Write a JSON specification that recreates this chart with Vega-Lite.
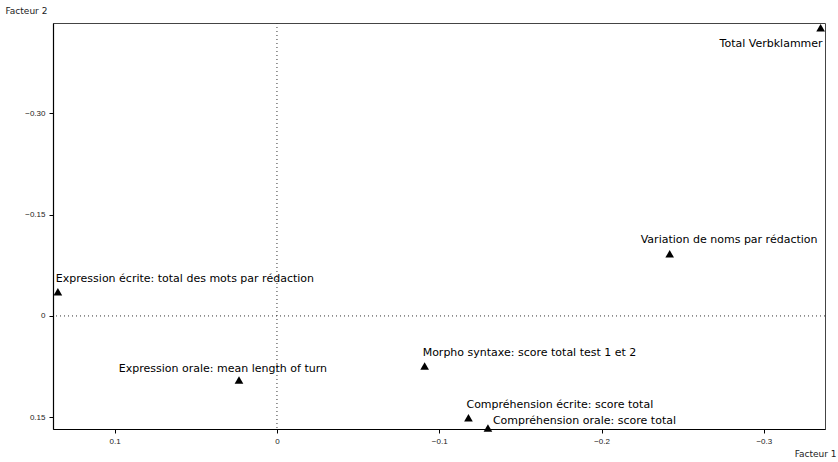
{
  "$schema": "https://vega.github.io/schema/vega-lite/v6.json",
  "autosize": "none",
  "width": 772,
  "height": 406,
  "padding": {"left": 53, "top": 23, "right": 13, "bottom": 33},
  "background": "white",
  "config": {
    "view": {"stroke": "#444", "strokeWidth": 1},
    "font": "Liberation Sans",
    "axis": {"grid": false, "domainColor": "black", "domainWidth": 1.2, "tickColor": "black", "labelColor": "#222", "labelFontSize": 8, "titleFontSize": 9, "titleFontWeight": "normal", "titleColor": "#222", "labelFont": "Liberation Sans", "titleFont": "DejaVu Sans"}
  },
  "data": {
    "values": [
      {"label": "Total Verbklammer", "f1": -0.335, "f2": -0.427},
      {"label": "Variation de noms par rédaction", "f1": -0.242, "f2": -0.092},
      {"label": "Expression écrite: total des mots par rédaction", "f1": 0.135, "f2": -0.036},
      {"label": "Expression orale: mean length of turn", "f1": 0.0234, "f2": 0.095},
      {"label": "Morpho syntaxe: score total test 1 et 2", "f1": -0.091, "f2": 0.074},
      {"label": "Compréhension écrite: score total", "f1": -0.118, "f2": 0.151},
      {"label": "Compréhension orale: score total", "f1": -0.130, "f2": 0.166}
    ]
  },
  "encoding": {
    "x": {"field": "f1", "type": "quantitative",
      "scale": {"domain": [-0.3377, 0.138], "reverse": true, "nice": false, "zero": false},
      "axis": {"values": [0.1, 0, -0.1, -0.2, -0.3], "labelExpr": "datum.value == 0 ? '0' : format(datum.value, '.1f')", "title": "Facteur 1", "titleX": 783, "titleY": 27, "titleAlign": "right", "titleBaseline": "alphabetic", "tickSize": 4, "labelPadding": 4}},
    "y": {"field": "f2", "type": "quantitative",
      "scale": {"domain": [-0.434, 0.1675], "reverse": true, "nice": false, "zero": false},
      "axis": {"values": [-0.3, -0.15, 0, 0.15], "labelExpr": "datum.value == 0 ? '0' : format(datum.value, '.2f')", "title": "Facteur 2", "titleAngle": 0, "titleX": -48, "titleY": -10, "titleAlign": "left", "titleBaseline": "alphabetic", "tickSize": 4, "labelPadding": 4}}
  },
  "layer": [
    {
      "data": {"values": [{"v": 0}]},
      "mark": {"type": "rule", "color": "#333", "strokeWidth": 1, "strokeDash": [1, 3]},
      "encoding": {"x": {"field": "v", "type": "quantitative"}, "y": null}
    },
    {
      "data": {"values": [{"v": 0}]},
      "mark": {"type": "rule", "color": "#333", "strokeWidth": 1, "strokeDash": [1, 3]},
      "encoding": {"y": {"field": "v", "type": "quantitative"}, "x": null}
    },
    {
      "mark": {"type": "point", "shape": "triangle-up", "filled": true, "color": "black", "opacity": 1, "size": 75}
    },
    {
      "transform": [{"filter": {"field": "label", "oneOf": ["Expression écrite: total des mots par rédaction", "Morpho syntaxe: score total test 1 et 2", "Compréhension écrite: score total"]}}],
      "mark": {"type": "text", "align": "left", "baseline": "alphabetic", "dx": -2, "dy": -10, "fontSize": 11, "font": "DejaVu Sans", "color": "black"},
      "encoding": {"text": {"field": "label"}}
    },
    {
      "transform": [{"filter": {"field": "label", "equal": "Variation de noms par rédaction"}}],
      "mark": {"type": "text", "align": "left", "baseline": "alphabetic", "dx": -29, "dy": -11, "fontSize": 11, "font": "DejaVu Sans", "color": "black"},
      "encoding": {"text": {"field": "label"}}
    },
    {
      "transform": [{"filter": {"field": "label", "equal": "Expression orale: mean length of turn"}}],
      "mark": {"type": "text", "align": "right", "baseline": "alphabetic", "dx": 88, "dy": -8, "fontSize": 11, "font": "DejaVu Sans", "color": "black"},
      "encoding": {"text": {"field": "label"}}
    },
    {
      "transform": [{"filter": {"field": "label", "equal": "Total Verbklammer"}}],
      "mark": {"type": "text", "align": "right", "baseline": "alphabetic", "dx": 2, "dy": 19, "fontSize": 11, "font": "DejaVu Sans", "color": "black"},
      "encoding": {"text": {"field": "label"}}
    },
    {
      "transform": [{"filter": {"field": "label", "equal": "Compréhension orale: score total"}}],
      "mark": {"type": "text", "align": "left", "baseline": "alphabetic", "dx": 5, "dy": -4, "fontSize": 11, "font": "DejaVu Sans", "color": "black"},
      "encoding": {"text": {"field": "label"}}
    }
  ]
}
